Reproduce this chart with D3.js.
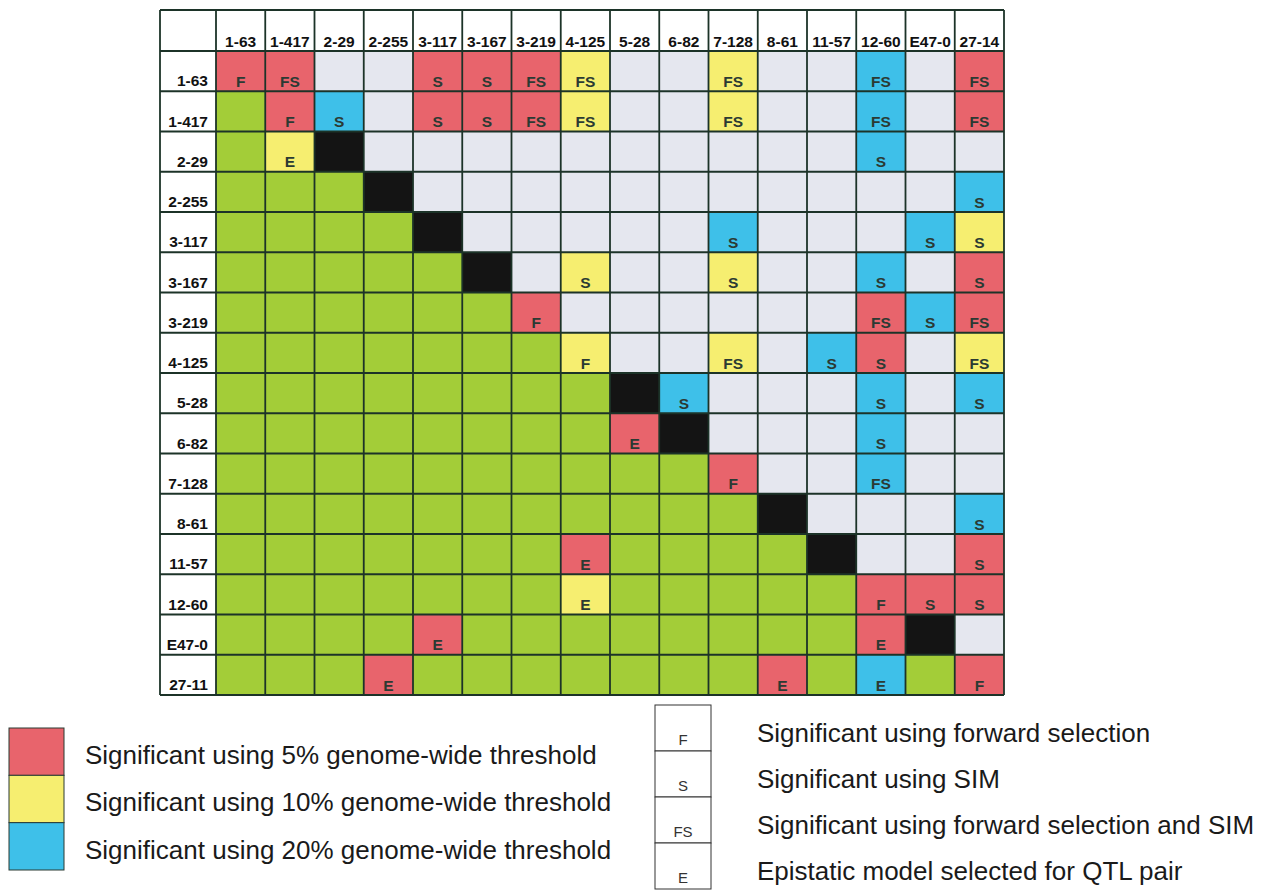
<!DOCTYPE html>
<html><head><meta charset="utf-8">
<script src="https://cdn.jsdelivr.net/npm/d3@7"></script>
<style>body{margin:0;background:#fff}svg{display:block}</style>
</head><body>
<script>
const colLabels = ["1-63","1-417","2-29","2-255","3-117","3-167","3-219","4-125","5-28","6-82","7-128","8-61","11-57","12-60","E47-0","27-14"];
const rowLabels = ["1-63","1-417","2-29","2-255","3-117","3-167","3-219","4-125","5-28","6-82","7-128","8-61","11-57","12-60","E47-0","27-11"];
// R=5%, Y=10%, B=20%, G=lower triangle, W=not significant, K=diagonal
const cellColors = [
  "RRWWRRRYWWYWWBWR",
  "GRBWRRRYWWYWWBWR",
  "GYKWWWWWWWWWWBWW",
  "GGGKWWWWWWWWWWWB",
  "GGGGKWWWWWBWWWBY",
  "GGGGGKWYWWYWWBWR",
  "GGGGGGRWWWWWWRBR",
  "GGGGGGGYWWYWBRWY",
  "GGGGGGGGKBWWWBWB",
  "GGGGGGGGRKWWWBWW",
  "GGGGGGGGGGRWWBWW",
  "GGGGGGGGGGGKWWWB",
  "GGGGGGGRGGGGKWWR",
  "GGGGGGGYGGGGGRRR",
  "GGGGRGGGGGGGGRKW",
  "GGGRGGGGGGGRGBGR"
];
const cellTexts = [
  ["F","FS","","","S","S","FS","FS","","","FS","","","FS","","FS"],
  ["","F","S","","S","S","FS","FS","","","FS","","","FS","","FS"],
  ["","E","","","","","","","","","","","","S","",""],
  ["","","","","","","","","","","","","","","","S"],
  ["","","","","","","","","","","S","","","","S","S"],
  ["","","","","","","","S","","","S","","","S","","S"],
  ["","","","","","","F","","","","","","","FS","S","FS"],
  ["","","","","","","","F","","","FS","","S","S","","FS"],
  ["","","","","","","","","","S","","","","S","","S"],
  ["","","","","","","","","E","","","","","S","",""],
  ["","","","","","","","","","","F","","","FS","",""],
  ["","","","","","","","","","","","","","","","S"],
  ["","","","","","","","E","","","","","","","","S"],
  ["","","","","","","","E","","","","","","F","S","S"],
  ["","","","","E","","","","","","","","","E","",""],
  ["","","","E","","","","","","","","E","","E","","F"]
];
const colorLegendLabels = ["Significant using 5% genome-wide threshold","Significant using 10% genome-wide threshold","Significant using 20% genome-wide threshold"];
const colorLegendKeys = ["R","Y","B"];
const codeLegendKeys = ["F","S","FS","E"];
const codeLegendLabels = ["Significant using forward selection","Significant using SIM","Significant using forward selection and SIM","Epistatic model selected for QTL pair"];

const palette = {R:"#e8646c",Y:"#f6ee70",B:"#3ec0e9",G:"#a3cd38",W:"#e5e7ef",K:"#141414"};
const W = 1265, H = 891;
const svg = d3.select("body").append("svg").attr("width",W).attr("height",H)
  .style("font-family","'Liberation Sans', Arial, sans-serif");

const gLeft = 160, labelW = 56, gTop = 10, headH = 41, gRight = 1004, gBottom = 695;
const x = d3.scaleBand().domain(colLabels).range([gLeft+labelW, gRight]);
const y = d3.scaleBand().domain(rowLabels).range([gTop+headH, gBottom]);
const lineCol = "#1c3328";

const cells = [];
rowLabels.forEach((r,i)=>colLabels.forEach((c,j)=>cells.push({r,c,code:cellColors[i][j],t:cellTexts[i][j]})));

svg.append("rect").attr("x",gLeft).attr("y",gTop).attr("width",gRight-gLeft).attr("height",gBottom-gTop).attr("fill","#fff");

const g = svg.append("g");
g.selectAll("rect.cell").data(cells).join("rect").attr("class","cell")
  .attr("x",d=>x(d.c)).attr("y",d=>y(d.r))
  .attr("width",x.bandwidth()).attr("height",y.bandwidth())
  .attr("fill",d=>palette[d.code]);
g.selectAll("text.ct").data(cells.filter(d=>d.t)).join("text").attr("class","ct")
  .attr("x",d=>x(d.c)+x.bandwidth()/2).attr("y",d=>y(d.r)+y.bandwidth()-4.5)
  .attr("text-anchor","middle").attr("font-size",15.5).attr("font-weight","bold")
  .attr("fill","#2b3a33").text(d=>d.t);

const gl = svg.append("g").attr("stroke",lineCol).attr("stroke-width",1.8);
const xs = [gLeft].concat(colLabels.map(c=>x(c))).concat([gRight]);
const ys = [gTop].concat(rowLabels.map(r=>y(r))).concat([gBottom]);
gl.selectAll("line.v").data(xs).join("line").attr("class","v")
  .attr("x1",d=>d).attr("x2",d=>d).attr("y1",gTop).attr("y2",gBottom);
gl.selectAll("line.h").data(ys).join("line").attr("class","h")
  .attr("y1",d=>d).attr("y2",d=>d).attr("x1",gLeft).attr("x2",gRight);

svg.selectAll("text.col").data(colLabels).join("text").attr("class","col")
  .attr("x",d=>x(d)+x.bandwidth()/2).attr("y",gTop+headH-4)
  .attr("text-anchor","middle").attr("font-size",15.5).attr("font-weight","bold").attr("fill","#111")
  .text(d=>d);
svg.selectAll("text.row").data(rowLabels).join("text").attr("class","row")
  .attr("x",gLeft+48).attr("y",d=>y(d)+y.bandwidth()-5)
  .attr("text-anchor","end").attr("font-size",15.5).attr("font-weight","bold").attr("fill","#111")
  .text(d=>d);

const ly = d3.scaleBand().domain(colorLegendKeys).range([728,870]);
svg.selectAll("rect.lg").data(colorLegendKeys).join("rect").attr("class","lg")
  .attr("x",9).attr("y",d=>ly(d)).attr("width",55).attr("height",ly.bandwidth())
  .attr("fill",d=>palette[d]).attr("stroke","#2a3a33").attr("stroke-width",1);
svg.selectAll("text.lg").data(colorLegendKeys).join("text").attr("class","lg")
  .attr("x",85).attr("y",d=>ly(d)+36)
  .attr("font-size",26).attr("fill","#1a1a1a")
  .text((d,i)=>colorLegendLabels[i]);

const cy = d3.scaleBand().domain(codeLegendKeys).range([705,889]);
svg.selectAll("rect.cl").data(codeLegendKeys).join("rect").attr("class","cl")
  .attr("x",655).attr("y",d=>cy(d)).attr("width",56).attr("height",cy.bandwidth())
  .attr("fill","#fff").attr("stroke","#333").attr("stroke-width",1);
svg.selectAll("text.clk").data(codeLegendKeys).join("text").attr("class","clk")
  .attr("x",683).attr("y",d=>cy(d)+cy.bandwidth()-6)
  .attr("text-anchor","middle").attr("font-size",15).attr("fill","#333").text(d=>d);
svg.selectAll("text.cll").data(codeLegendKeys).join("text").attr("class","cll")
  .attr("x",757).attr("y",(d,i)=>cy(d)+37)
  .attr("font-size",26).attr("fill","#1a1a1a")
  .text((d,i)=>codeLegendLabels[i]);
</script>
</body></html>
